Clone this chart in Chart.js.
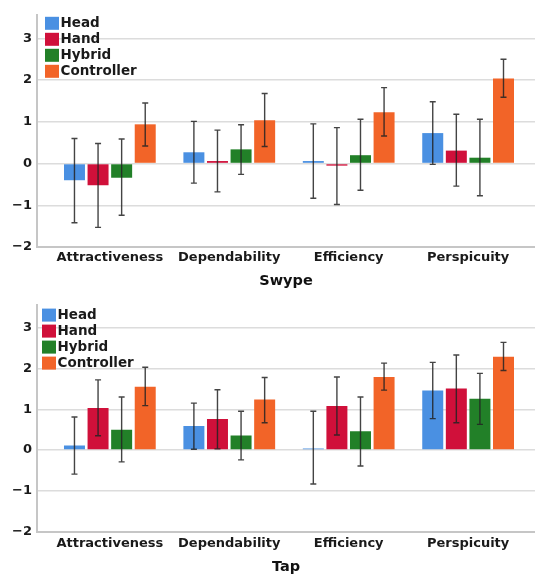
<!DOCTYPE html>
<html>
<head>
<meta charset="utf-8">
<script src="https://cdn.jsdelivr.net/npm/chart.js@4.4.1/dist/chart.umd.min.js"></script>
<style>
  html, body { margin: 0; padding: 0; background: #fff; }
  canvas { display: block; }
</style>
</head>
<body>
<canvas id="swype" width="535" height="292"></canvas>
<canvas id="tap" width="535" height="286"></canvas>
<script>
// categories and series
const categories = ['Attractiveness', 'Dependability', 'Efficiency', 'Perspicuity'];
const series     = ['Head', 'Hand', 'Hybrid', 'Controller'];
const colors     = ['#4a90e2', '#d0103a', '#228028', '#f26428'];
const yTicks     = [-2, -1, 0, 1, 2, 3];

// Swype – means and error bar ends
const swypeHead       = [-0.40, 0.27, 0.06, 0.73];
const swypeHand       = [-0.52, 0.06, -0.05, 0.31];
const swypeHybrid     = [-0.34, 0.34, 0.20, 0.14];
const swypeController = [0.94, 1.04, 1.23, 2.04];
const swypeLow  = [[-1.42, -0.47, -0.83, -0.02], [-1.53, -0.68, -0.98, -0.54],
                   [-1.24, -0.26, -0.64, -0.77], [0.42, 0.41, 0.66, 1.59]];
const swypeHigh = [[0.60, 1.01, 0.95, 1.48], [0.48, 0.80, 0.86, 1.18],
                   [0.59, 0.93, 1.06, 1.06], [1.45, 1.68, 1.82, 2.50]];

// Tap – means and error bar ends
const tapHead       = [0.11, 0.59, 0.04, 1.46];
const tapHand       = [1.03, 0.76, 1.08, 1.51];
const tapHybrid     = [0.50, 0.36, 0.46, 1.26];
const tapController = [1.55, 1.24, 1.79, 2.29];
const tapLow  = [[-0.59, 0.02, -0.83, 0.77], [0.35, 0.03, 0.37, 0.67],
                 [-0.29, -0.24, -0.39, 0.63], [1.09, 0.67, 1.47, 1.95]];
const tapHigh = [[0.81, 1.15, 0.95, 2.15], [1.72, 1.48, 1.79, 2.33],
                 [1.30, 0.95, 1.30, 1.88], [2.03, 1.78, 2.13, 2.64]];

const FONT = '"DejaVu Sans", sans-serif';
const TEXT = '#1a1a1a';

// error bars drawn on top of each bar
const errorBars = {
  id: 'errorBars',
  afterDatasetsDraw(chart) {
    const { ctx, scales: { y } } = chart;
    ctx.save();
    ctx.strokeStyle = 'rgba(35,35,35,0.85)';
    ctx.lineWidth = 1.4;
    chart.data.datasets.forEach((ds, i) => {
      chart.getDatasetMeta(i).data.forEach((bar, j) => {
        const x   = bar.x;
        const top = y.getPixelForValue(ds.hi[j]);
        const bot = y.getPixelForValue(ds.lo[j]);
        ctx.beginPath();
        ctx.moveTo(x, top);     ctx.lineTo(x, bot);
        ctx.moveTo(x - 3, top); ctx.lineTo(x + 3, top);
        ctx.moveTo(x - 3, bot); ctx.lineTo(x + 3, bot);
        ctx.stroke();
      });
    });
    ctx.restore();
  }
};

// legend in the top-left corner of the plot
const cornerLegend = {
  id: 'cornerLegend',
  afterDraw(chart, args, opts) {
    const { ctx, chartArea } = chart;
    ctx.save();
    ctx.font = 'bold 13.5px ' + FONT;
    ctx.textBaseline = 'middle';
    chart.data.datasets.forEach((ds, i) => {
      const cy = chartArea.top + opts.top + i * opts.step;
      const bx = chartArea.left + opts.left;
      ctx.fillStyle = ds.backgroundColor;
      ctx.fillRect(bx, cy - 6.5, 14, 13);
      ctx.fillStyle = TEXT;
      ctx.fillText(ds.label, bx + 15.5, cy + 0.5);
    });
    ctx.restore();
  }
};

function buildPanel(id, title, means, lows, highs, cfg) {
  const datasets = series.map((name, k) => ({
    label: name,
    data: categories.map((c, j) => ({ x: j, y: means[k][j] })),
    lo: lows[k],
    hi: highs[k],
    backgroundColor: colors[k],
    borderWidth: 0
  }));

  return new Chart(document.getElementById(id), {
    type: 'bar',
    data: { datasets },
    plugins: [errorBars, cornerLegend],
    options: {
      responsive: false,
      animation: false,
      layout: { padding: { top: cfg.padTop, right: 0, bottom: 0, left: 0 } },
      datasets: { bar: { categoryPercentage: 0.79, barPercentage: 0.89 } },
      plugins: {
        legend: { display: false },
        tooltip: { enabled: false },
        cornerLegend: { left: cfg.legendLeft, top: cfg.legendTop, step: 16 }
      },
      scales: {
        x: {
          type: 'linear',
          bounds: 'data',
          offset: false,
          min: -0.61,
          max: 3.56,
          grid: { display: false, drawTicks: false },
          border: { color: '#c6c6c6', width: 2 },
          ticks: {
            autoSkip: false,
            maxRotation: 0,
            padding: cfg.tickPad,
            color: TEXT,
            font: { family: FONT, size: 13, weight: 'bold' },
            callback: v => categories[v] ?? ''
          },
          afterBuildTicks: s => { s.ticks = categories.map((c, i) => ({ value: i })); },
          title: {
            display: true,
            text: title,
            color: '#111',
            font: { family: FONT, size: 14.5, weight: 'bold' },
            padding: { top: 0, bottom: 2 }
          },
          afterFit: s => { s.height = cfg.xHeight; }
        },
        y: {
          bounds: 'data',
          min: yTicks[0],
          max: 3.56,
          grid: { color: '#dcdcdc', lineWidth: 1.5, drawTicks: false },
          border: { color: '#c6c6c6', width: 2 },
          ticks: {
            padding: 5,
            color: TEXT,
            font: { family: FONT, size: 13, weight: 'bold' },
            callback: v => (v < 0 ? '\u2212' + Math.abs(v) : String(v))
          },
          afterBuildTicks: s => { s.ticks = yTicks.map(v => ({ value: v })); },
          afterFit: s => { s.width = 37; }
        }
      }
    }
  });
}

buildPanel('swype', 'Swype',
  [swypeHead, swypeHand, swypeHybrid, swypeController], swypeLow, swypeHigh,
  { padTop: 15, xHeight: 45, tickPad: 3, legendLeft: 8, legendTop: 8.3 });

buildPanel('tap', 'Tap',
  [tapHead, tapHand, tapHybrid, tapController], tapLow, tapHigh,
  { padTop: 11, xHeight: 46.3, tickPad: 4, legendLeft: 5, legendTop: 10.3 });
</script>
</body>
</html>
